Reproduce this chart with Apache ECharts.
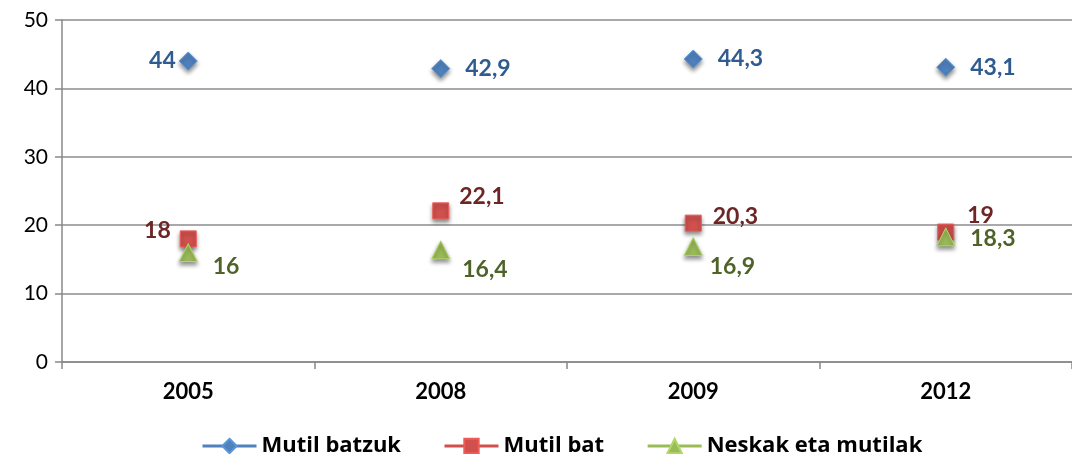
<!DOCTYPE html>
<html>
<head>
<meta charset="utf-8">
<script src="https://cdn.jsdelivr.net/npm/echarts@6/dist/echarts.min.js"></script>
<style>
html, body { margin: 0; padding: 0; background: #fff; }
#chart { width: 1072px; height: 454px; }
</style>
</head>
<body>
<div id="chart"></div>
<script>
var years = ['2005', '2008', '2009', '2012'];
var seriesNames = ['Mutil batzuk', 'Mutil bat', 'Neskak eta mutilak'];
var mutilBatzuk = [44, 42.9, 44.3, 43.1];
var mutilBat = [18, 22.1, 20.3, 19];
var neskakMutilak = [16, 16.4, 16.9, 18.3];
var yTicks = [0, 10, 20, 30, 40, 50];

// label placement, per point: [position, dx, dy]
var blueLabels = [['left', 2, 0], ['right', 10, 0], ['right', 10, 0], ['right', 10, 0]];
var redLabels = [['left', -4, -8], ['right', 5, -14], ['right', 6, -7], ['right', 8, -16]];
var greenLabels = [['right', 10, 14], ['right', 7, 20], ['right', 2, 20], ['right', 10, 2]];

var Chart = {
	init : function() {
		var chart = echarts.init(document.getElementById('chart'));
		chart.setOption(Chart.buildOption(), true);
	},

	fmt : function(v) {
		return String(v).replace('.', ',');
	},

	buildData : function(values, places) {
		var out = [];
		for (var i = 0; i < values.length; i++) {
			out.push({
				value : values[i],
				label : {
					position : places[i][0],
					offset : [ places[i][1], places[i][2] ]
				}
			});
		}
		return out;
	},

	buildSeries : function(name, values, places, symbol, size, fill, textColor) {
		return {
			name : name,
			type : 'line',
			data : Chart.buildData(values, places),
			symbol : symbol,
			symbolSize : size,
			lineStyle : { width : 0, opacity : 0 },
			itemStyle : {
				color : fill,
				borderColor : echarts.color.lift(fill, -0.15),
				borderWidth : 1,
				shadowBlur : 4,
				shadowColor : 'rgba(0,0,0,0.45)',
				shadowOffsetY : 3
			},
			emphasis : { disabled : true },
			label : {
				show : true,
				distance : 5,
				color : textColor,
				fontFamily : 'Lato',
				fontWeight : 'bold',
				fontSize : 23,
				formatter : function(p) {
					return Chart.fmt(p.value);
				}
			},
			z : 3
		};
	},

	buildOption : function() {
		var option = {
			animation : false,
			backgroundColor : '#fff',
			grid : {
				left : 62,
				top : 20,
				width : 1016,
				height : 342
			},
			legend : {
				top : 430,
				left : 196,
				itemWidth : 54,
				itemHeight : 18,
				itemGap : 42,
				textStyle : {
					fontFamily : 'Open Sans',
					fontWeight : 'bold',
					fontSize : 22,
					color : '#000'
				},
				lineStyle : { width : 3, opacity : 1 },
				data : seriesNames
			},
			xAxis : {
				type : 'category',
				data : years,
				boundaryGap : true,
				axisLine : { lineStyle : { color : '#888', width : 1.5 } },
				axisTick : { show : true, length : 7, inside : false, lineStyle : { color : '#888', width : 1.5 } },
				axisLabel : {
					margin : 19,
					color : '#000',
					fontFamily : 'Lato',
					fontWeight : 'bold',
					fontSize : 22
				}
			},
			yAxis : {
				type : 'value',
				min : yTicks[0],
				max : yTicks[yTicks.length - 1],
				interval : 10,
				axisLine : { show : true, lineStyle : { color : '#888', width : 1.5 } },
				axisTick : { show : true, length : 7, lineStyle : { color : '#888', width : 1.5 } },
				splitLine : { lineStyle : { color : '#8c8c8c', width : 1.5 } },
				axisLabel : {
					margin : 14,
					color : '#000',
					fontFamily : 'Lato',
					fontSize : 21
				}
			},
			series : [
				Chart.buildSeries(seriesNames[0], mutilBatzuk, blueLabels, 'diamond', 18, '#4F81BD', '#2F5B8F'),
				Chart.buildSeries(seriesNames[1], mutilBat, redLabels, 'rect', 16, '#D0504D', '#6E2525'),
				Chart.buildSeries(seriesNames[2], neskakMutilak, greenLabels, 'triangle', 18, '#9BBB59', '#4F6228')
			]
		};
		return option;
	}
};

Chart.init();
</script>
</body>
</html>
